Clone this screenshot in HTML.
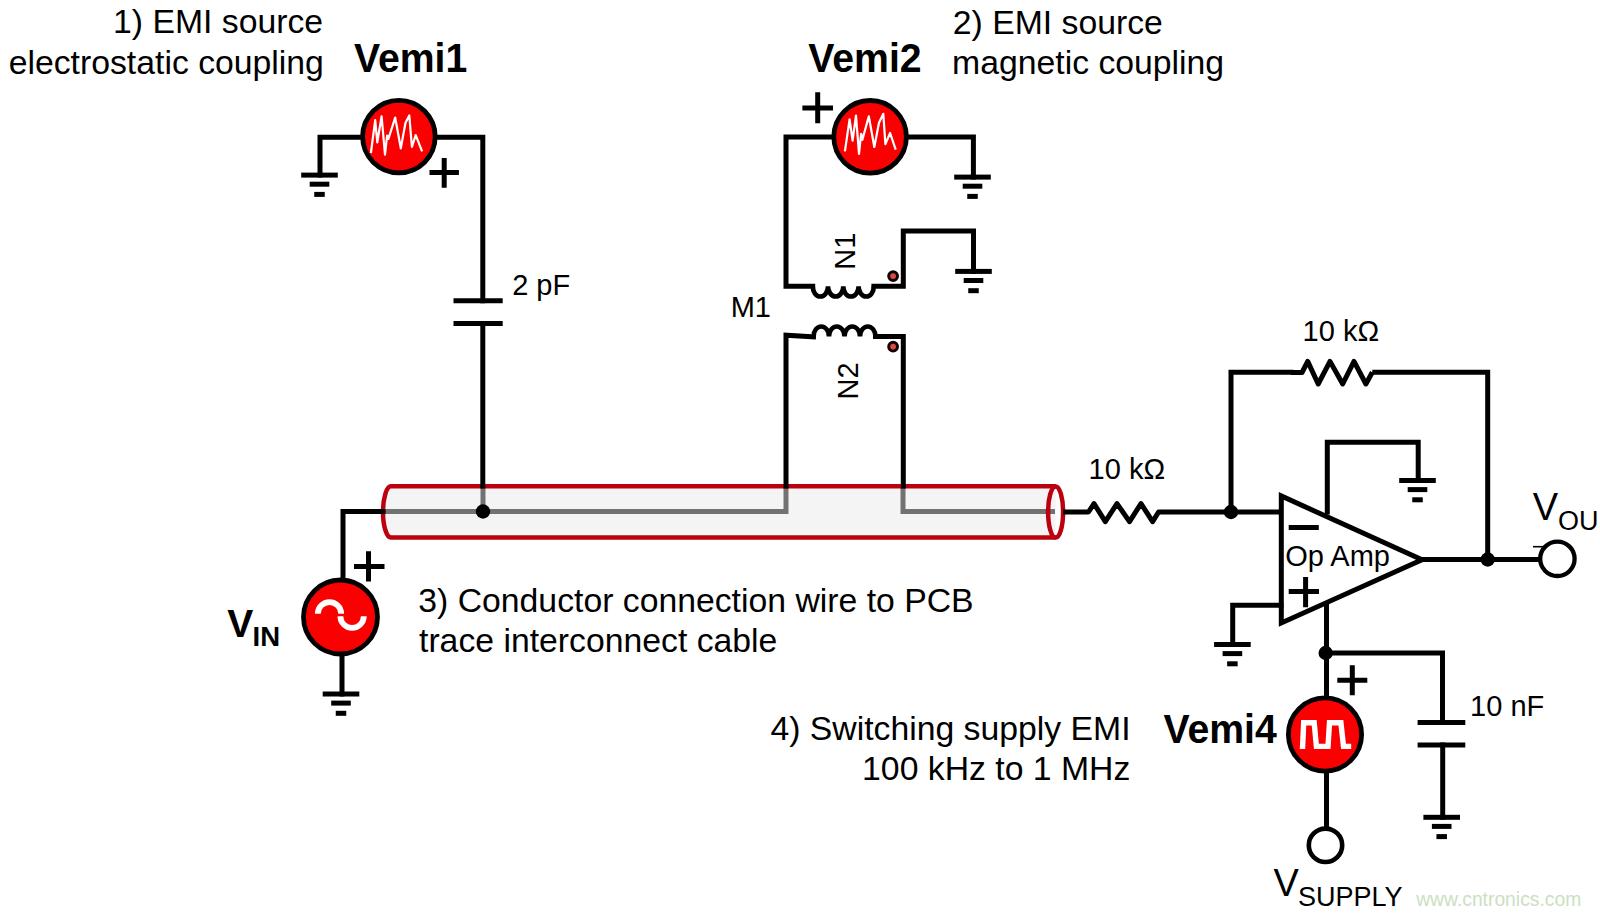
<!DOCTYPE html>
<html>
<head>
<meta charset="utf-8">
<style>
html,body{margin:0;padding:0;background:#fff;}
body{width:1600px;height:915px;overflow:hidden;}
svg{display:block;}
text{font-family:"Liberation Sans",sans-serif;fill:#000;}
.w{fill:none;stroke:#000;stroke-width:5;stroke-linecap:square;stroke-linejoin:miter;}
.g{fill:none;stroke:#000;stroke-width:5;stroke-linecap:butt;}
.src{fill:#fa0000;stroke:#000;stroke-width:4.8;}
.b{font-weight:bold;}
</style>
</head>
<body>
<svg width="1600" height="915" viewBox="0 0 1600 915">
<rect width="1600" height="915" fill="#fff"/>
<defs>
<g id="gnd"><rect x="-18.3" y="-2.5" width="36.6" height="5"/><rect x="-9.8" y="6.6" width="19.6" height="5"/><rect x="-5.25" y="16.8" width="10.5" height="5"/></g>
</defs>


<!-- ===== TEXT LABELS ===== -->
<text x="113" y="33" font-size="33.75">1) EMI source</text>
<text x="8.7" y="73.5" font-size="33.75">electrostatic coupling</text>
<text class="b" font-size="39.2" transform="translate(353.9 72.1) scale(1 1.04)">Vemi1</text>
<text class="b" font-size="39.2" transform="translate(808.3 72.1) scale(1 1.04)">Vemi2</text>
<text x="952.8" y="33.7" font-size="33.75">2) EMI source</text>
<text x="952.1" y="73.5" font-size="33.75">magnetic coupling</text>
<text x="512.2" y="294.8" font-size="29">2 pF</text>
<text x="730.7" y="317.3" font-size="29">M1</text>
<text x="0" y="0" font-size="29" transform="translate(854.8 269.7) rotate(-90)">N1</text>
<text x="0" y="0" font-size="29" transform="translate(858.4 399.5) rotate(-90)">N2</text>
<text x="418.3" y="612.4" font-size="33.75">3) Conductor connection wire to PCB</text>
<text x="419" y="651.9" font-size="33.75">trace interconnect cable</text>
<text x="770.4" y="739.8" font-size="33.75">4) Switching supply EMI</text>
<text x="862.1" y="779.8" font-size="33.75">100 kHz to 1 MHz</text>
<text x="1088.6" y="478.5" font-size="29">10 kΩ</text>
<text x="1302.6" y="340.6" font-size="29">10 kΩ</text>
<text x="1285.2" y="566.3" font-size="29">Op Amp</text>
<text class="b" font-size="39.2" transform="translate(1163.5 743) scale(1 1.04)">Vemi4</text>
<text x="1470.1" y="716" font-size="29">10 nF</text>
<text class="b" x="227.3" y="636.7" font-size="39">V</text>
<text class="b" x="252.6" y="646" font-size="27.5">IN</text>
<text x="1532.8" y="520" font-size="38">V</text>
<text x="1558.1" y="529.7" font-size="27">OU</text>
<text x="1273.4" y="895.7" font-size="38">V</text>
<text x="1297.9" y="905.7" font-size="27">SUPPLY</text>
<text x="1416.2" y="905.7" font-size="19.3" style="fill:#cbe0c2">www.cntronics.com</text>

<!-- ===== CABLE ===== -->
<g id="cable">
  <path d="M391 486.3 L1055.6 486.3 L1055.6 537.5 L391 537.5 A8 25.6 0 0 1 391 486.3 Z" fill="#f4f4f4" stroke="none"/>
  <path d="M786 488 L786 511.5 L384 511.5 M483 488 L483 511.5 M903 488 L903 511.5 L1055 511.5" fill="none" stroke="#727272" stroke-width="5"/>
  <path d="M1055.6 486.3 L391 486.3 A8 25.6 0 0 0 391 537.5 L1055.6 537.5" fill="none" stroke="#bb000e" stroke-width="4.5"/>
  <ellipse cx="1055.6" cy="512" rx="7.5" ry="25.6" fill="none" stroke="#bb000e" stroke-width="4.5"/>
  <circle cx="483" cy="511.5" r="7.2" fill="#000"/>
</g>

<!-- ===== WIRES ===== -->
<path class="w" d="M343 578 L343 511.5 L383 511.5"/>
<path class="w" d="M360 137.3 L320 137.3 L320 175"/>
<path class="w" d="M437 137.3 L482.8 137.3 L482.8 300.8"/>
<path class="w" d="M482.8 323.4 L482.8 486"/>
<path class="w" d="M831 137 L786 137 L786 286.3 L812.7 286.3"/>
<path class="w" d="M908.5 137 L973.4 137 L973.4 177"/>
<path class="w" d="M873.9 286.3 L903.3 286.3 L903.3 231 L973.5 231 L973.5 271.4"/>
<path class="w" d="M786 486 L786 335.2 L813.5 336.8"/>
<path class="w" d="M875.5 336.5 L903.3 336.5 L903.3 486"/>
<path class="w" d="M342 656 L342 694"/>

<!-- coils -->
<path d="M812.7 286.3 A7.65 10.2 0 0 0 828.00 286.3 A7.65 10.2 0 0 0 843.30 286.3 A7.65 10.2 0 0 0 858.60 286.3 A7.65 10.2 0 0 0 873.90 286.3" fill="none" stroke="#000" stroke-width="4.6"/>
<path d="M813.5 336.5 A7.75 10 0 0 1 829.00 336.5 A7.75 10 0 0 1 844.50 336.5 A7.75 10 0 0 1 860.00 336.5 A7.75 10 0 0 1 875.50 336.5" fill="none" stroke="#000" stroke-width="4.6"/>
<circle cx="893.1" cy="276.1" r="4.4" fill="#e04848" stroke="#110000" stroke-width="3"/>
<circle cx="893.1" cy="346.6" r="4.4" fill="#e04848" stroke="#110000" stroke-width="3"/>

<!-- capacitor 2pF -->
<path class="g" d="M453.5 300.8 L502.7 300.8 M453.5 323.4 L502.7 323.4"/>

<!-- grounds -->
<g id="gnds" fill="#000">
<use href="#gnd" x="319.5" y="175.1"/>
<use href="#gnd" x="972.5" y="177.1"/>
<use href="#gnd" x="973.5" y="271.4"/>
<use href="#gnd" x="341" y="694"/>
<use href="#gnd" x="1417.5" y="480.5"/>
<use href="#gnd" x="1232.4" y="644.5"/>
<use href="#gnd" x="1441.7" y="817.3"/>
</g>

<!-- input resistor / op amp -->
<path class="w" style="stroke-linecap:butt;stroke-linejoin:round" d="M1063 512 L1088.5 512 L1094 503.6 L1105.3 521.6 L1117 503.6 L1129.5 521.6 L1141 503.6 L1152.6 521.6 L1158.6 512 L1281 512"/>
<path class="w" d="M1231 512 L1231 372.3 L1291 372.3"/>
<path class="w" style="stroke-linecap:butt" d="M1372.3 372.3 L1487.7 372.3 L1487.7 559.5"/>
<path class="w" style="stroke-linecap:butt;stroke-linejoin:round" d="M1291 372.5 L1302 372.5 L1307.7 361.4 L1318.2 384 L1330 361.4 L1342.7 384 L1354 361.4 L1365.9 384 L1372.3 372.3"/>
<circle cx="1231" cy="512" r="7.2" fill="#000"/>
<path d="M1281.3 496 L1281.3 623 L1422 559.8 Z" fill="none" stroke="#000" stroke-width="5" stroke-linejoin="miter"/>
<path class="g" d="M1288.7 527.4 L1318.8 527.4 M1288.7 591.4 L1319 591.4 M1305.6 577 L1305.6 607.2"/>
<path class="w" d="M1327.3 512 L1327.3 442.2 L1418.2 442.2 L1418.2 480.5"/>
<path class="w" d="M1281 605.3 L1232.7 605.3 L1232.7 644.5"/>
<path class="w" d="M1326.5 606 L1326.5 826"/>
<path class="w" d="M1419 559.5 L1538 559.5"/>
<circle cx="1487.7" cy="559.5" r="7.2" fill="#000"/>
<circle cx="1557.4" cy="558.8" r="17.2" fill="#fff" stroke="#000" stroke-width="4.3"/>
<path d="M1533 546.7 L1545 546.7" stroke="#000" stroke-width="1.6"/>
<path class="w" d="M1326 653 L1442.5 653 L1442.5 722.5"/>
<path class="w" d="M1442.7 745 L1442.7 817.3"/>
<path class="g" d="M1417.6 722.5 L1465.3 722.5 M1417.6 745 L1465.3 745"/>
<circle cx="1325.7" cy="653" r="7.2" fill="#000"/>
<circle cx="1325.5" cy="845.3" r="16.7" fill="#fff" stroke="#000" stroke-width="4.6"/>

<!-- plus signs -->
<path class="g" d="M429.5 172.5 L458.9 172.5 M444.2 158 L444.2 187.8"/>
<path class="g" d="M802.4 108 L833 108 M817.7 92.2 L817.7 123.3"/>
<path class="g" d="M354 566.4 L384.5 566.4 M368.5 551.3 L368.5 581.6"/>
<path class="g" d="M1337.3 680.2 L1367.3 680.2 M1352.3 665.2 L1352.3 695.2"/>

<!-- sources -->
<circle class="src" cx="398.9" cy="136.6" r="36.3"/>
<circle class="src" cx="870.1" cy="136.8" r="36.3"/>
<circle class="src" cx="340.5" cy="617" r="37"/>
<circle class="src" cx="1325" cy="734.5" r="36.6"/>
<path d="M370.9 153 L375.2 120.2 L377.3 142.3 L381.6 116.3 L385 154.7 L387.1 135.5 L388.4 138.9 L395.2 117.6 L400.8 148.3 L405.5 122.7 L409.3 115.5 L411.9 147 L415.7 135.1 L422.1 151.3" fill="none" stroke="#fff" stroke-width="2.2" stroke-linejoin="round"/>
<path d="M844.9 151.3 L849.6 119.3 L852.6 140.6 L856 115.5 L859 153.9 L861.1 133.8 L862.4 139.8 L868.8 116.3 L874.3 147 L879 122.7 L883.3 113.8 L885.4 144.1 L890.1 133 L895.7 149.6" fill="none" stroke="#fff" stroke-width="2.2" stroke-linejoin="round"/>
<path d="M317.8 613.8 A11.7 11.7 0 0 1 341.2 613.8 M340.4 616.2 A11.7 11.7 0 0 0 363.8 616.2" fill="none" stroke="#fff" stroke-width="5.8"/>
<path d="M1302.5 749 L1303.7 722.8 L1314.2 722.8 L1316.4 746.4 L1328 746.4 L1329.5 722.8 L1340.9 722.8 L1343.5 746.4 L1351.2 746.4" fill="none" stroke="#fff" stroke-width="5.4"/>
</svg>
</body>
</html>
